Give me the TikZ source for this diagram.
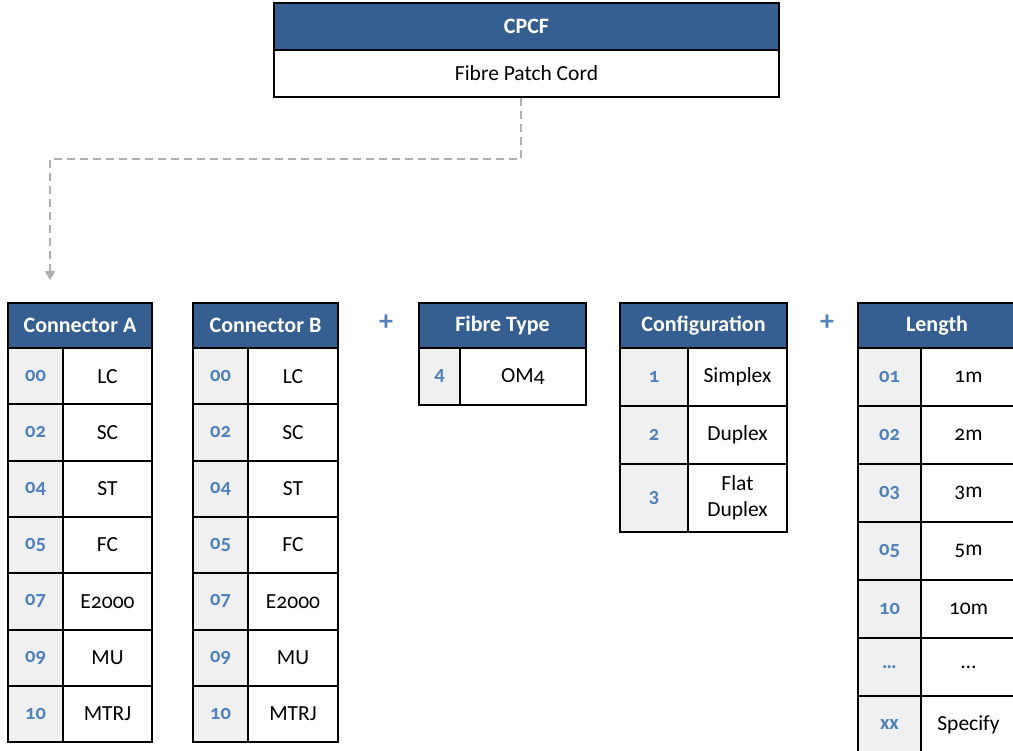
\documentclass[tikz,border=0pt]{standalone}
\usepackage{fontspec}
\setmainfont{Carlito}[Numbers=OldStyle]
\usetikzlibrary{arrows.meta}

\definecolor{headblue}{HTML}{365F91}
\definecolor{codeblue}{HTML}{4F81BD}
\definecolor{codegray}{HTML}{F0F0F0}
\definecolor{linkgray}{HTML}{B0B0B0}

\tikzset{
  cell/.style={draw=black, line width=2pt, inner sep=0pt, anchor=north west,
    font=\fontsize{21.5}{26}\selectfont},
  headcell/.style={cell, fill=headblue, text=white, minimum height=45pt,
    font=\fontsize{22}{26}\selectfont\bfseries},
  codecell/.style={cell, fill=codegray, text=codeblue,
    font=\fontsize{20.5}{24}\selectfont\bfseries},
  valcell/.style={cell, fill=white, align=center},
  plussign/.style={text=codeblue, font=\fontsize{28}{30}\selectfont\bfseries},
  link/.style={draw=linkgray, line width=2pt, dash pattern=on 8pt off 5pt,
    -{Triangle[width=10pt,length=9pt]}},
}

\begin{document}
\begin{tikzpicture}[x=1pt, y=-1pt]
  \useasboundingbox (0,0) rectangle (1013,751);

  % product code
  \node[headcell, minimum width=505pt, minimum height=47pt] (cpcf) at (273,2) {CPCF};
  \node[valcell, minimum width=505pt, minimum height=47pt] (fpc) at (273,49) {Fibre Patch Cord};

  % connector A
  \node[headcell, minimum width=144pt] (conAhead) at (7,302) {Connector A};
  \foreach \cd/\nm [count=\i from 0] in {00/LC,02/SC,04/ST,05/FC,07/E2000,09/MU,10/MTRJ} {
    \node[codecell, minimum width=55pt, minimum height=56.3pt] (conAc\i) at (7,347+56.3*\i) {\cd};
    \node[valcell, minimum width=89pt, minimum height=56.3pt] (conAv\i) at (62,347+56.3*\i) {\nm};
  }

  % connector B
  \node[headcell, minimum width=145pt] (conBhead) at (192,302) {Connector B};
  \foreach \cd/\nm [count=\i from 0] in {00/LC,02/SC,04/ST,05/FC,07/E2000,09/MU,10/MTRJ} {
    \node[codecell, minimum width=55pt, minimum height=56.3pt] (conBc\i) at (192,347+56.3*\i) {\cd};
    \node[valcell, minimum width=90pt, minimum height=56.3pt] (conBv\i) at (247,347+56.3*\i) {\nm};
  }

  \node[plussign] (plusA) at (386,323) {+};

  % fibre type
  \node[headcell, minimum width=167pt] (fibhead) at (418,302) {Fibre Type};
  \node[codecell, minimum width=41pt, minimum height=57pt] (fibc) at (418,347) {4};
  \node[valcell, minimum width=126pt, minimum height=57pt] (fibv) at (459,347) {OM4};

  % configuration
  \node[headcell, minimum width=167pt] (confhead) at (619,302) {Configuration};
  \node[codecell, minimum width=68pt, minimum height=58pt] (confc1) at (619,347) {1};
  \node[valcell, minimum width=99pt, minimum height=58pt] (confv1) at (687,347) {Simplex};
  \node[codecell, minimum width=68pt, minimum height=58pt] (confc2) at (619,405) {2};
  \node[valcell, minimum width=99pt, minimum height=58pt] (confv2) at (687,405) {Duplex};
  \node[codecell, minimum width=68pt, minimum height=68pt] (confc3) at (619,463) {3};
  \node[valcell, minimum width=99pt, minimum height=68pt] (confv3) at (687,463) {Flat\\Duplex};

  \node[plussign] (plusB) at (827,323) {+};

  % length
  \node[headcell, minimum width=158pt] (lenhead) at (857,302) {Length};
  \foreach \cd/\nm [count=\i from 0] in {01/1m,02/2m,03/3m,05/5m,10/10m,{\ldots}/{\ldots},xx/Specify} {
    \node[codecell, minimum width=63pt, minimum height=58pt] (lenc\i) at (857,347+58*\i) {\cd};
    \node[valcell, minimum width=95pt, minimum height=58pt] (lenv\i) at (920,347+58*\i) {\nm};
  }

  % link
  \draw[link] ([xshift=-6pt]fpc.south) -- ++(0,61) -| ([xshift=-30pt,yshift=22pt]conAhead.north);
\end{tikzpicture}
\end{document}
